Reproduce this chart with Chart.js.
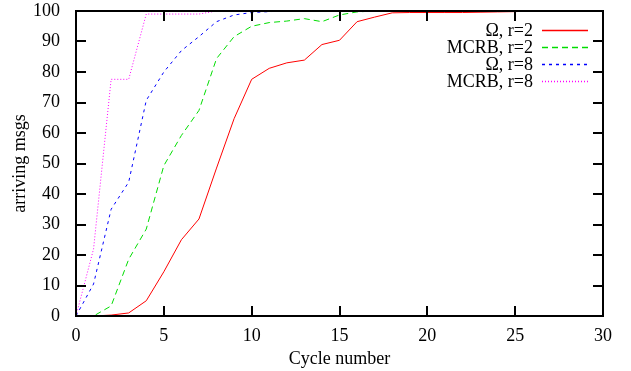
<!DOCTYPE html>
<html>
<head>
<meta charset="utf-8">
<script src="https://cdn.jsdelivr.net/npm/chart.js@4/dist/chart.umd.min.js"></script>
</head>
<body style="margin:0; background:#fff">
<canvas id="chart" width="631" height="371"></canvas>
<script>
// cycle numbers 0..30
const cycles = [0,1,2,3,4,5,6,7,8,9,10,11,12,13,14,15,16,17,18,19,20,21,22,23,24,25,26,27,28,29,30];

// arriving msgs (%)
const omegaR2 = [0,0,0.3,1,5,14.5,25,31.8,48.5,64.7,77.6,81.2,83,83.9,89,90.4,96.5,98,99.4,99.5,99.5,99.5,99.5,99.6,99.7,99.8,100,100,100,100,100];
const mcrbR2  = [0,0,3.3,18.6,28.5,49.3,59.2,67.4,84.4,91.6,95,96.2,96.7,97.5,96.5,98.7,99.7,100,100,100,100,100,100,100,100,100,100,100,100,100,100];
const omegaR8 = [0,10.5,35,43.9,70.7,80,87,91.6,96.5,98.7,99.5,99.8,100,100,100,100,100,100,100,100,100,100,100,100,100,100,100,100,100,100,100];
const mcrbR8  = [0,22,77.6,77.6,99,99,99,99,100,100,100,100,100,100,100,100,100,100,100,100,100,100,100,100,100,100,100,100,100,100,100];

const seriesNames = ['\u03A9, r=2', 'MCRB, r=2', '\u03A9, r=8', 'MCRB, r=8'];
const seriesColors = ['#ff0000', '#00dd00', '#0000ff', '#ff00ff'];
const seriesDash = [[], [6, 4], [3, 4], [1, 2]];

const xTicks = [0, 5, 10, 15, 20, 25, 30];
const yTicks = [0, 10, 20, 30, 40, 50, 60, 70, 80, 90, 100];

const FONT = 'Liberation Serif';

function toPoints(vals) {
    return cycles.map((c, i) => ({ x: c, y: vals[i] }));
}

const allSeries = [omegaR2, mcrbR2, omegaR8, mcrbR8];

// gnuplot-like frame with inward ticks on all four sides
const frame = {
    id: 'frame',
    afterDraw(chart) {
        const c = chart.ctx;
        const a = chart.chartArea;
        const left = Math.round(a.left), right = Math.round(a.right);
        const top = Math.round(a.top), bottom = Math.round(a.bottom);
        const len = 10;
        c.save();
        c.setLineDash([]);
        c.fillStyle = '#000';
        for (let i = 0; i < xTicks.length; i++) {
            const x = Math.round(chart.scales.x.getPixelForValue(xTicks[i]));
            c.fillRect(x - 1, bottom - len, 2, len);
            c.fillRect(x - 1, top, 2, len);
        }
        for (let i = 0; i < yTicks.length; i++) {
            const y = Math.round(chart.scales.y.getPixelForValue(yTicks[i]));
            c.fillRect(left, y - 1, len, 2);
            c.fillRect(right - len, y - 1, len, 2);
        }
        c.fillRect(left - 1, top - 1, right - left + 2, 2);
        c.fillRect(left - 1, bottom - 1, right - left + 2, 2);
        c.fillRect(left - 1, top - 1, 2, bottom - top + 2);
        c.fillRect(right - 1, top - 1, 2, bottom - top + 2);
        c.restore();
    }
};

// key inside the top right corner
const key = {
    id: 'key',
    afterDraw(chart) {
        const c = chart.ctx;
        c.save();
        c.font = '18px "' + FONT + '"';
        c.textAlign = 'right';
        c.textBaseline = 'middle';
        const textRight = 533, lineL = 542, lineR = 588;
        seriesNames.forEach((name, i) => {
            const y = 30 + i * 17;
            c.fillStyle = '#000';
            c.fillText(name, textRight, y + 1);
            c.strokeStyle = seriesColors[i];
            c.lineWidth = 1.5;
            c.setLineDash(seriesDash[i]);
            c.beginPath();
            c.moveTo(lineL, y + 0.5);
            c.lineTo(lineR, y + 0.5);
            c.stroke();
        });
        c.restore();
    }
};

new Chart(document.getElementById('chart'), {
    type: 'line',
    data: {
        datasets: allSeries.map((vals, i) => ({
            label: seriesNames[i],
            data: toPoints(vals),
            borderColor: seriesColors[i],
            borderDash: seriesDash[i],
            borderWidth: 1,
            pointRadius: 0,
            tension: 0,
            fill: false
        }))
    },
    options: {
        responsive: false,
        animation: false,
        layout: { padding: { top: 11, right: 28, left: 0, bottom: 0 } },
        plugins: { legend: { display: false }, tooltip: { enabled: false } },
        scales: {
            x: {
                type: 'linear',
                min: 0, max: 30,
                afterBuildTicks: s => { s.ticks = xTicks.map(v => ({ value: v })); },
                afterFit: s => { s.height = 55; s.paddingLeft = 0; s.paddingRight = 0; },
                grid: { display: false },
                border: { display: false },
                ticks: { color: '#000', font: { family: FONT, size: 18 }, padding: 1, maxRotation: 0 },
                title: { display: true, text: 'Cycle number', color: '#000', font: { family: FONT, size: 18 }, padding: { top: 0, bottom: 1 } }
            },
            y: {
                min: 0, max: 100,
                afterBuildTicks: s => { s.ticks = yTicks.map(v => ({ value: v })); },
                afterFit: s => { s.width = 76; s.paddingTop = 0; s.paddingBottom = 0; },
                grid: { display: false },
                border: { display: false },
                ticks: { color: '#000', font: { family: FONT, size: 18 }, padding: 8 },
                title: { display: true, text: 'arriving msgs', color: '#000', font: { family: FONT, size: 18 }, padding: { top: 9, bottom: 0 } }
            }
        }
    },
    plugins: [frame, key]
});
</script>
</body>
</html>
